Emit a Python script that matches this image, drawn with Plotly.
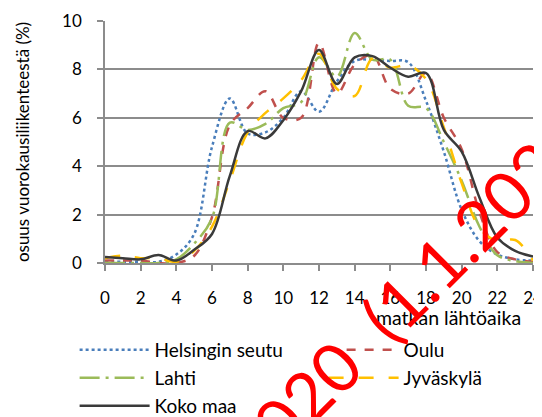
import plotly.graph_objects as go

# hourly share of daily traffic (%)
hours = list(range(25))
helsinki = [0.05, 0.05, 0.05, 0.05, 0.35, 1.2, 4.8, 6.8, 5.35, 5.4, 6.0, 7.1, 6.25,
            7.5, 8.35, 8.4, 8.35, 8.3, 6.7, 4.6, 2.2, 0.9, 0.35, 0.15, 0.1]
oulu = [0.1, 0.1, 0.1, 0.0, 0.0, 0.3, 1.9, 5.7, 6.4, 7.1, 6.0, 6.0, 9.1,
        7.0, 8.2, 8.6, 7.2, 7.0, 7.85, 6.0, 4.7, 2.1, 0.45, 0.15, 0.05]
lahti = [0.0, 0.0, 0.0, 0.0, 0.15, 0.8, 1.85, 5.8, 5.5, 5.75, 6.4, 6.65, 8.5,
         7.7, 9.5, 8.4, 8.4, 6.5, 6.4, 5.0, 3.4, 1.5, 0.32, 0.08, 0.0]
jyvaskyla = [0.2, 0.3, 0.2, 0.2, 0.05, 0.5, 1.5, 3.4, 5.4, 6.2, 6.8, 7.55, 8.65,
             7.2, 6.9, 8.45, 8.07, 8.17, 7.6, 5.6, 3.3, 1.45, 0.9, 0.95, 0.1]
koko_maa = [0.25, 0.2, 0.15, 0.33, 0.1, 0.55, 1.2, 3.6, 5.45, 5.15, 5.9, 7.1, 8.8,
            7.4, 8.5, 8.55, 8.07, 7.7, 7.85, 5.5, 4.6, 2.7, 1.05, 0.5, 0.27]

# name, values, colour, dash, legend row
series = [
    ("Helsingin seutu", helsinki, "#4a7ebb", "dot", "legend"),
    ("Oulu", oulu, "#c0504d", "dash", "legend"),
    ("Lahti", lahti, "#9bbb59", "20px,6px,3px,6px", "legend2"),
    ("Jyväskylä", jyvaskyla, "#ffc000", "longdash", "legend2"),
    ("Koko maa", koko_maa, "#3a3a3a", "solid", "legend3"),
]

FONT = "Lato"
GRID = "#8c8c8c"

fig = go.Figure()
for name, vals, col, dash, leg in series:
    fig.add_trace(go.Scatter(
        x=hours, y=vals, name=name, mode="lines", legend=leg,
        line=dict(color=col, dash=dash, width=2.5, shape="spline", smoothing=1.0),
    ))

fig.update_xaxes(
    range=[0, 24], tickvals=list(range(0, 25, 2)),
    showgrid=False, showline=True, linecolor=GRID, linewidth=1.5,
    ticks="outside", ticklen=6, tickcolor=GRID, tickwidth=1.5,
    ticklabelstandoff=13, ticklabeloverflow="allow",
    tickfont=dict(size=17, color="#000000"),
    zeroline=False,
)
fig.update_yaxes(
    range=[0, 10], tickvals=list(range(0, 11, 2)),
    showgrid=True, gridcolor=GRID, gridwidth=1.5,
    showline=True, linecolor=GRID, linewidth=1.5,
    ticks="outside", ticklen=6, tickcolor=GRID, tickwidth=1.5,
    ticklabelstandoff=12,
    tickfont=dict(size=17, color="#000000"),
    title=dict(text="osuus vuorokausiliikenteestä (%)", font=dict(size=17, color="#000000"), standoff=28),
    zeroline=False,
)

# x-axis title sits at the right under the tick labels
fig.add_annotation(
    text="matkan lähtöaika", xref="paper", yref="paper",
    x=0.977, y=-0.227, xanchor="right", yanchor="middle",
    showarrow=False, font=dict(family=FONT, size=19.5, color="#000000"),
)

# red watermark across the lower right
fig.add_annotation(
    text="2020\u00a0\u00a0(1.1.2020)", xref="paper", yref="paper",
    x=0.72, y=-0.103, xanchor="center", yanchor="middle",
    textangle=-45, showarrow=False,
    font=dict(family=FONT, size=68, color="#ff0000"),
)

leg_common = dict(
    orientation="h", x=-0.071, xanchor="left", yanchor="middle",
    entrywidth=164, itemwidth=70, font=dict(size=19),
    bgcolor="rgba(0,0,0,0)",
)

fig.update_layout(
    width=542, height=417,
    # page body adds 8px offset, so margins are shifted by that amount
    margin=dict(l=97, r=17, t=13, b=162, autoexpand=False),
    paper_bgcolor="white", plot_bgcolor="white",
    font=dict(family=FONT, size=17, color="#000000"),
    showlegend=True,
    legend=dict(y=-0.3595, **leg_common),
    legend2=dict(y=-0.475, **leg_common),
    legend3=dict(y=-0.591, **leg_common),
)

fig.write_html("out.html")
